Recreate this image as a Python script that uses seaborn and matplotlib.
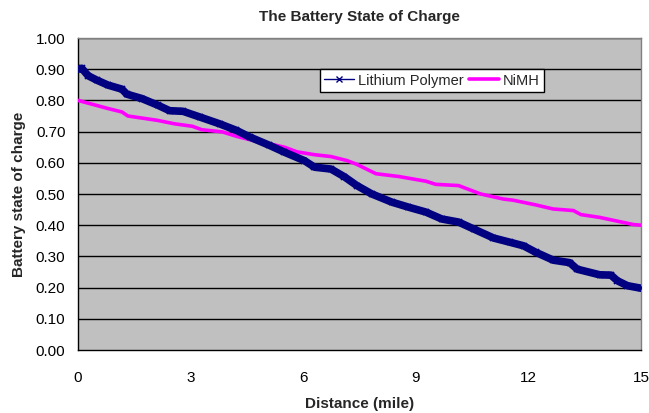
import matplotlib
matplotlib.use("Agg")
import matplotlib.pyplot as plt
from matplotlib.lines import Line2D
import seaborn as sns
import pandas as pd

# ---- data ----
li_miles = [0, 0.1, 0.27, 0.5, 0.8, 1.17, 1.3, 1.7, 2.12, 2.44, 2.8, 3.24, 3.77,
            4.22, 4.57, 5.1, 5.5, 6.03, 6.3, 6.74, 7.1, 7.43, 7.83, 8.36, 8.8,
            9.27, 9.69, 10.14, 10.54, 11.07, 11.52, 11.87, 12.2, 12.66, 13.1,
            13.3, 13.9, 14.2, 14.37, 14.64, 15]
li_soc = [0.90, 0.903, 0.879, 0.865, 0.849, 0.836, 0.82, 0.806, 0.785, 0.767,
          0.765, 0.747, 0.725, 0.704, 0.683, 0.656, 0.634, 0.607, 0.586, 0.58,
          0.555, 0.527, 0.50, 0.474, 0.458, 0.442, 0.42, 0.41, 0.388, 0.359,
          0.345, 0.334, 0.313, 0.288, 0.28, 0.259, 0.241, 0.24, 0.222, 0.206,
          0.198]

nimh_miles = [0, 0.8, 1.17, 1.33, 2.12, 2.57, 3.05, 3.3, 3.85, 4.22, 4.65, 4.9,
              5.1, 5.5, 5.84, 6.3, 6.74, 7.17, 7.43, 7.94, 8.55, 9.27, 9.53,
              10.14, 10.73, 11.33, 11.6, 12.2, 12.66, 13.2, 13.4, 13.9, 14.37,
              14.8, 15]
nimh_soc = [0.80, 0.774, 0.763, 0.75, 0.736, 0.725, 0.717, 0.706, 0.699, 0.685,
            0.672, 0.663, 0.661, 0.65, 0.635, 0.626, 0.62, 0.607, 0.595, 0.565,
            0.556, 0.541, 0.531, 0.527, 0.50, 0.484, 0.48, 0.465, 0.452, 0.447,
            0.434, 0.425, 0.413, 0.402, 0.40]

series_names = ["Lithium Polymer", "NiMH"]
x_ticks = [0, 3, 6, 9, 12, 15]
y_ticks = [0.0, 0.1, 0.2, 0.3, 0.4, 0.5, 0.6, 0.7, 0.8, 0.9, 1.0]
title = "The Battery State of Charge"
x_label = "Distance (mile)"
y_label = "Battery state of charge"

# ---- styling ----
sns.set_style("white")
plt.rcParams["font.family"] = ["Liberation Sans", "DejaVu Sans"]

li_color = "#000080"
nimh_color = "#FF00FF"

df_li = pd.DataFrame({"mile": li_miles, "soc": li_soc})
df_ni = pd.DataFrame({"mile": nimh_miles, "soc": nimh_soc})

fig = plt.figure(figsize=(6.49, 4.13), dpi=100)
ax = fig.add_axes([78 / 649, 1 - 350 / 413, (641 - 78) / 649, (350 - 38) / 413])
ax.set_facecolor("#C0C0C0")

for y in y_ticks[1:]:
    ax.axhline(y, color="#000000", linewidth=1.0, zorder=1)

sns.lineplot(data=df_ni, x="mile", y="soc", ax=ax, color=nimh_color,
             linewidth=2.6, zorder=3, estimator=None, sort=False)
sns.lineplot(data=df_li, x="mile", y="soc", ax=ax, color=li_color,
             linewidth=5.5, zorder=4, estimator=None, sort=False,
             marker="x", markersize=5, markeredgewidth=1.2,
             markeredgecolor=li_color)

ax.set_xlim(0, 15)
ax.set_ylim(0, 1.0)
ax.set_xticks(x_ticks)
ax.set_xticklabels([str(t) for t in x_ticks])
ax.set_yticks(y_ticks)
ax.set_yticklabels([f"{t:.2f}" for t in y_ticks])
ax.tick_params(axis="both", direction="out", length=4, width=1, color="black",
               labelsize=11, labelcolor="black", pad=5)
ax.tick_params(axis="x", pad=11)

for side in ["top", "right"]:
    ax.spines[side].set_visible(True)
    ax.spines[side].set_color("#808080")
    ax.spines[side].set_linewidth(1.0)
for side in ["left", "bottom"]:
    ax.spines[side].set_color("black")
    ax.spines[side].set_linewidth(1.0)

ax.set_xlabel(x_label, fontsize=11, fontweight="bold", labelpad=9)
ax.set_ylabel(y_label, fontsize=11, fontweight="bold", labelpad=7)
fig.text((78 + 641) / 2 / 649, 1 - 17 / 413, title, ha="center", va="center",
         fontsize=11, fontweight="bold")

handles = [
    Line2D([0], [0], color=li_color, linewidth=1.0, marker="x", markersize=4,
           markeredgewidth=1.0),
    Line2D([0], [0], color=nimh_color, linewidth=2.6),
]
leg = ax.legend(handles, series_names, loc="upper left",
                bbox_to_anchor=(0.43, 0.90), ncol=2, frameon=True,
                fancybox=False, fontsize=10.5, borderaxespad=0,
                handlelength=2.0, handletextpad=0.3, columnspacing=0.4,
                borderpad=0.3)
leg.get_frame().set_edgecolor("black")
leg.get_frame().set_linewidth(1.0)
leg.get_frame().set_facecolor("white")
leg.get_frame().set_alpha(1.0)
leg.set_zorder(10)

fig.savefig("out.png", dpi=100, facecolor="white")
